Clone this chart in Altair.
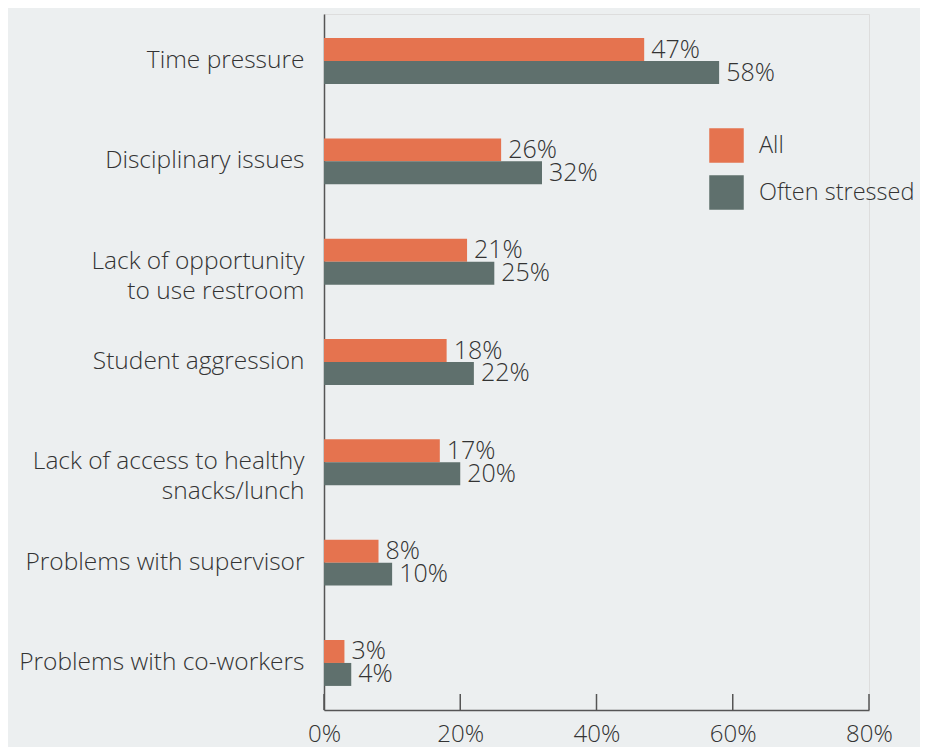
import altair as alt
import pandas as pd

categories = ["Time pressure", "Disciplinary issues", "Lack of opportunity|to use restroom",
              "Student  aggression", "Lack of access to healthy|snacks/lunch",
              "Problems with supervisor", "Problems with co-workers"]
all_vals = [47, 26, 21, 18, 17, 8, 3]
stressed_vals = [58, 32, 25, 22, 20, 10, 4]
series = ["All", "Often stressed"]
ticks = [0, 20, 40, 60, 80]

rows = []
for c, a, s in zip(categories, all_vals, stressed_vals):
    rows.append({"cat": c, "series": series[0], "v": a})
    rows.append({"cat": c, "series": series[1], "v": s})
df = pd.DataFrame(rows)
df["label"] = df["v"].astype(str) + "%"
tick_df = pd.DataFrame({"t": ticks})

FONT = "Open Sans"
TXT = "#333333"
W, H = 545, 696

y_enc = alt.Y("cat:N", sort=categories,
              scale=alt.Scale(paddingInner=0.542, paddingOuter=0.24),
              axis=alt.Axis(title=None, ticks=False, domain=True, domainColor="#555555",
                            domainWidth=1.5, labelFontSize=24.5, labelColor=TXT, labelFont=FONT,
                            labelFontWeight=300, labelLimit=400,
                            labelPadding=20, labelLineHeight=30,
                            labelExpr="split(datum.label, '|')"))
yoff = alt.YOffset("series:N", sort=series, scale=alt.Scale(paddingInner=0, paddingOuter=0))

base = alt.Chart(df).encode(y=y_enc, yOffset=yoff)

bars = base.mark_bar(cornerRadius=0).encode(
    x=alt.X("v:Q", scale=alt.Scale(domain=[0, 80], nice=False),
            axis=alt.Axis(title=None, values=ticks, labelExpr="datum.value + '%'",
                          ticks=False, tickSize=0, grid=False, domainColor="#555555",
                          domainWidth=1.5, labelFontSize=24, labelColor=TXT, labelFont=FONT,
                          labelFontWeight=300, labelPadding=12, labelFlush=False)),
    color=alt.Color("series:N", sort=series,
                    scale=alt.Scale(domain=series, range=["#E5734F", "#5F706D"]),
                    legend=alt.Legend(title=None, orient="none", legendX=385, legendY=114,
                                      symbolType="square", symbolSize=1190,
                                      symbolStrokeWidth=0, labelFontSize=23.5,
                                      labelFontWeight=300, labelLimit=300,
                                      labelColor=TXT, labelFont=FONT, rowPadding=12,
                                      labelOffset=15)),
)

labels = base.mark_text(align="left", baseline="middle", dx=7, fontSize=25,
                        font=FONT, fontWeight=300, color=TXT).encode(
    x=alt.X("v:Q"),
    text="label:N",
)

tick_rules = alt.Chart(tick_df).mark_rule(color="#555555", strokeWidth=1.5).encode(
    x=alt.X("t:Q"),
    y=alt.value(H - 16),
    y2=alt.value(H),
)

chart = alt.layer(bars, labels, tick_rules).properties(
    width=W, height=H,
    background="#ECEFF0",
    autosize=alt.AutoSizeParams(type="none"),
    padding={"left": 316, "top": 6, "right": 51, "bottom": 37},
).configure_view(stroke=None).configure(font=FONT)

chart.save("out.html", embed_options={"renderer": "svg", "actions": False})
